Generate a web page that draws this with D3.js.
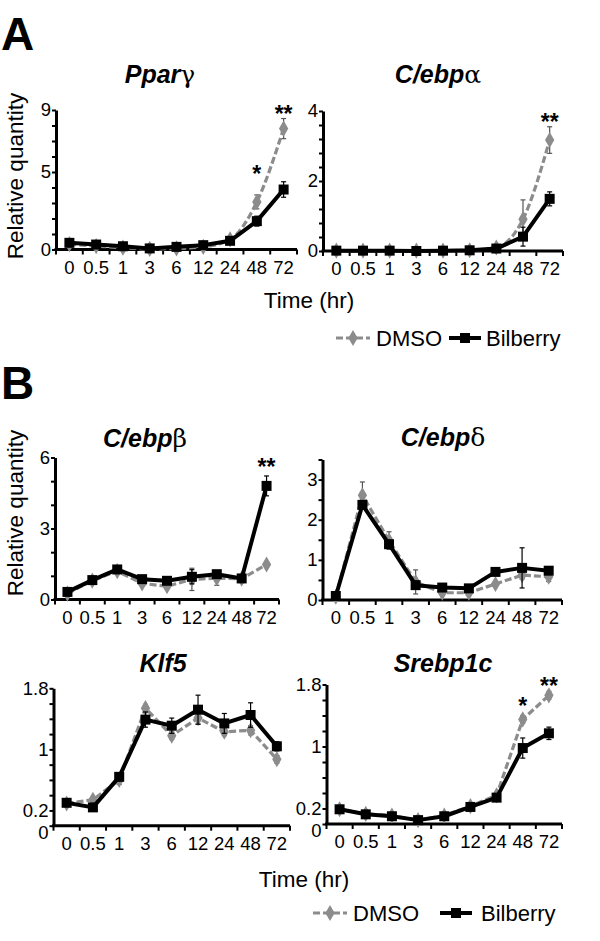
<!DOCTYPE html>
<html><head><meta charset="utf-8">
<script src="https://cdn.jsdelivr.net/npm/d3@7"></script>
<style>body{margin:0;background:#fff}svg{display:block;font-family:"Liberation Sans",Arial,sans-serif}</style>
</head><body><svg id="c" width="600" height="941"></svg>
<script>
// ---- data ----
const times = ["0","0.5","1","3","6","12","24","48","72"];
const seriesNames = ["DMSO","Bilberry"];

const pparDmso    = [0.35,0.22,0.12,0.04,0.07,0.17,0.65,3.07,7.8];
const pparDmsoErr = [0.05,0.04,0.03,0.02,0.02,0.04,0.1,0.45,0.65];
const pparBil     = [0.43,0.32,0.21,0.07,0.17,0.28,0.56,1.83,3.87];
const pparBilErr  = [0.05,0.04,0.03,0.02,0.03,0.04,0.08,0.32,0.5];

const cebpaDmso    = [0.01,0.01,0.01,0.01,0.01,0.02,0.1,0.91,3.17];
const cebpaDmsoErr = [0,0,0,0,0,0,0.02,0.55,0.38];
const cebpaBil     = [0.01,0.01,0.01,0.0,0.01,0.02,0.07,0.41,1.49];
const cebpaBilErr  = [0,0,0,0,0,0,0.02,0.27,0.2];

const cebpbDmso    = [0.25,0.8,1.2,0.68,0.56,0.85,0.9,0.88,1.48];
const cebpbDmsoErr = [0.03,0.05,0.08,0.08,0.08,0.47,0.3,0.05,0.1];
const cebpbBil     = [0.32,0.82,1.27,0.86,0.79,0.96,1.07,0.89,4.8];
const cebpbBilErr  = [0.03,0.05,0.06,0.06,0.08,0.3,0.1,0.05,0.42];

const cebpdDmso    = [0.08,2.61,1.48,0.45,0.18,0.18,0.4,0.62,0.58];
const cebpdDmsoErr = [0.02,0.33,0.22,0.3,0.05,0.04,0.05,0.1,0.12];
const cebpdBil     = [0.1,2.37,1.39,0.37,0.31,0.29,0.7,0.8,0.73];
const cebpdBilErr  = [0.02,0.1,0.1,0.1,0.05,0.05,0.06,0.5,0.08];

const klf5Dmso    = [0.29,0.34,0.6,1.54,1.18,1.41,1.23,1.25,0.87];
const klf5DmsoErr = [0.03,0.03,0.06,0.05,0.05,0.08,0.05,0.06,0.05];
const klf5Bil     = [0.30,0.24,0.64,1.39,1.31,1.52,1.34,1.45,1.04];
const klf5BilErr  = [0.03,0.03,0.05,0.1,0.1,0.19,0.13,0.16,0.06];

const srebpDmso    = [0.19,0.13,0.11,0.05,0.11,0.23,0.37,1.35,1.66];
const srebpDmsoErr = [0.01,0.01,0.01,0.01,0.01,0.02,0.02,0.05,0.05];
const srebpBil     = [0.19,0.125,0.10,0.05,0.10,0.22,0.34,0.98,1.17];
const srebpBilErr  = [0.01,0.01,0.01,0.01,0.01,0.02,0.02,0.13,0.08];

// y-axis tick labels per chart
const pparTicks  = [0,5,9];
const cebpaTicks = [0,2,4];
const cebpbTicks = [0,3,6];
const cebpdTicks = [0,1,2,3];
const klf5Ticks  = [0,0.2,1,1.8];
const srebpTicks = [0,0.2,1,1.8];

// significance marks: [chart, time, y-position in data units, label]
const stars = [
  ["ppar","48",5.19,"*"],["ppar","72",9.06,"**"],
  ["cebpa","72",3.83,"**"],
  ["cebpb","72",5.81,"**"],
  ["srebp","48",1.59,"*"],["srebp","72",1.85,"**"]
];

// ---- layout ----
const charts = [
  {id:"ppar", name:"Ppar", greek:"γ", dmso:pparDmso, dmsoErr:pparDmsoErr, bil:pparBil, bilErr:pparBilErr,
   yMax:9, yStep:1, labels:pparTicks, x0:56, x1:297, yb:249.5, yt:110, tx:160, ty:83, smooth:true, ylab:176},
  {id:"cebpa", name:"C/ebp", greek:"α", dmso:cebpaDmso, dmsoErr:cebpaDmsoErr, bil:cebpaBil, bilErr:cebpaBilErr,
   yMax:4, yStep:0.4, labels:cebpaTicks, x0:323, x1:563, yb:251, yt:111, tx:438, ty:83, smooth:true},
  {id:"cebpb", name:"C/ebp", greek:"β", dmso:cebpbDmso, dmsoErr:cebpbDmsoErr, bil:cebpbBil, bilErr:cebpbBilErr,
   yMax:6, yStep:1, labels:cebpbTicks, x0:55, x1:279, yb:599.5, yt:457.5, tx:145, ty:447, ylab:513},
  {id:"cebpd", name:"C/ebp", greek:"δ", dmso:cebpdDmso, dmsoErr:cebpdDmsoErr, bil:cebpdBil, bilErr:cebpdBilErr,
   yMax:3.5, yStep:0.5, labels:cebpdTicks, x0:322.5, x1:562, yb:600, yt:459.5, tx:443, ty:446},
  {id:"klf5", name:"Klf5", greek:"", dmso:klf5Dmso, dmsoErr:klf5DmsoErr, bil:klf5Bil, bilErr:klf5BilErr,
   yMax:1.8, yStep:0.2, labels:klf5Ticks, x0:53.5, x1:290, yb:825.7, yt:688.3, tx:163, ty:672, zeroShift:7},
  {id:"srebp", name:"Srebp1c", greek:"", dmso:srebpDmso, dmsoErr:srebpDmsoErr, bil:srebpBil, bilErr:srebpBilErr,
   yMax:1.8, yStep:0.2, labels:srebpTicks, x0:326.5, x1:562, yb:824, yt:684.5, tx:443, ty:672, zeroShift:7}
];

const GRAY = "#8c8c8c";
const TICK_FS = 18.5;
const svg = d3.select("#c");

charts.forEach(c => {
  const x = d3.scaleBand().domain(times).range([c.x0, c.x1]);
  const cx = t => x(t) + x.bandwidth()/2;
  const y = d3.scaleLinear().domain([0, c.yMax]).range([c.yb, c.yt]);
  const g = svg.append("g");

  // y axis: minor ticks
  const minor = d3.range(0, c.yMax + 1e-9, c.yStep);
  const ya = g.append("g").attr("transform", `translate(${c.x0},0)`)
    .call(d3.axisLeft(y).tickValues(minor).tickSize(4).tickSizeOuter(0).tickFormat(""));
  ya.select(".domain").attr("stroke-width", 3);
  ya.selectAll(".tick line").attr("stroke-width", 2);
  // y labels
  const yl = g.append("g").attr("transform", `translate(${c.x0},0)`)
    .call(d3.axisLeft(y).tickValues(c.labels).tickSize(0).tickPadding(5).tickFormat(d => String(d)));
  yl.select(".domain").remove();
  yl.selectAll("text").attr("font-size", TICK_FS).attr("font-family", "'Liberation Sans', Arial, sans-serif").attr("fill", "#000");
  if (c.zeroShift) yl.selectAll(".tick").filter(d => d === 0).select("text").attr("dy", (0.32*TICK_FS + c.zeroShift) + "px");

  // x axis
  const xa = g.append("g").attr("transform", `translate(0,${c.yb})`)
    .call(d3.axisBottom(x).tickSize(0).tickPadding(11));
  xa.select(".domain").attr("stroke-width", 3).attr("d", `M${c.x0 - 1.5},0H${c.x1}`);
  xa.selectAll("text").attr("font-size", TICK_FS).attr("font-family", "'Liberation Sans', Arial, sans-serif").attr("fill", "#000");
  const bounds = times.map(t => x(t)).concat([c.x1]);
  g.selectAll(".xb").data(bounds).join("line")
    .attr("x1", d => d).attr("x2", d => d).attr("y1", c.yb).attr("y2", c.yb + 5)
    .attr("stroke", "#000").attr("stroke-width", 2);

  // title
  const tt = g.append("text").attr("x", c.tx).attr("y", c.ty).attr("text-anchor", "middle")
    .attr("font-size", 25);
  tt.append("tspan").attr("font-weight", "bold").attr("font-style", "italic").text(c.name);
  if (c.greek) tt.append("tspan").attr("font-family", "'DejaVu Serif', serif").attr("font-size", 25).text(c.greek);

  // series
  const series = [
    {vals:c.dmso, err:c.dmsoErr, color:GRAY, dash:"7,3", width:3.2, shape:"diamond", errColor:"#555"},
    {vals:c.bil, err:c.bilErr, color:"#000", dash:null, width:4, shape:"square", errColor:"#000"}
  ];
  series.forEach((s, si) => {
    const pts = times.map((t, i) => ({t, v:s.vals[i], e:s.err[i]}));
    const eb = g.append("g").attr("stroke", s.errColor).attr("stroke-width", 1.2);
    pts.filter(p => p.e > 0.015).forEach(p => {
      const X = cx(p.t), y1 = y(p.v - p.e), y2 = y(p.v + p.e);
      eb.append("line").attr("x1", X).attr("x2", X).attr("y1", y1).attr("y2", y2);
      eb.append("line").attr("x1", X - 2.5).attr("x2", X + 2.5).attr("y1", y1).attr("y2", y1);
      eb.append("line").attr("x1", X - 2.5).attr("x2", X + 2.5).attr("y1", y2).attr("y2", y2);
    });
    const line = d3.line().x(p => cx(p.t)).y(p => y(p.v))
      .curve(c.smooth && si === 0 ? d3.curveMonotoneX : d3.curveLinear);
    g.append("path").datum(pts).attr("d", line).attr("fill", "none")
      .attr("stroke", s.color).attr("stroke-width", s.width)
      .attr("stroke-dasharray", s.dash).attr("stroke-linejoin", "round");
    const sym = s.shape === "square"
      ? d3.symbol().type(d3.symbolSquare).size(100)
      : d3.symbol().type(d3.symbolDiamond).size(75);
    g.selectAll(null).data(pts).join("path")
      .attr("d", sym).attr("transform", p => `translate(${cx(p.t)},${y(p.v)})`)
      .attr("fill", s.color);
  });

  // significance
  stars.filter(s => s[0] === c.id).forEach(s => {
    g.append("text").attr("x", cx(s[1])).attr("y", y(s[2]) + 13)
      .attr("text-anchor", "middle").attr("font-size", 23).attr("font-weight", "bold").text(s[3]);
  });

  // y axis title
  if (c.ylab) {
    g.append("text").attr("transform", `translate(23,${c.ylab}) rotate(-90)`)
      .attr("text-anchor", "middle").attr("font-size", 22.5).text("Relative quantity");
  }
});

// panel letters
svg.append("text").attr("x", 1).attr("y", 50).attr("font-size", 46).attr("font-weight", "bold").text("A");
svg.append("text").attr("x", 1).attr("y", 399).attr("font-size", 46).attr("font-weight", "bold").text("B");

// time labels
svg.append("text").attr("x", 309).attr("y", 308).attr("text-anchor", "middle").attr("font-size", 22.5).text("Time (hr)");
svg.append("text").attr("x", 304).attr("y", 887).attr("text-anchor", "middle").attr("font-size", 22.5).text("Time (hr)");

// legends
function legend(yc, gx0, gx1, tx0, bx0, bx1, tx1) {
  const lg = svg.append("g");
  lg.append("line").attr("x1", gx0).attr("x2", gx1).attr("y1", yc).attr("y2", yc)
    .attr("stroke", GRAY).attr("stroke-width", 3.2).attr("stroke-dasharray", "7,3");
  lg.append("path").attr("d", d3.symbol().type(d3.symbolDiamond).size(75)).attr("transform", `translate(${(gx0+gx1)/2},${yc})`).attr("fill", GRAY);
  lg.append("text").attr("x", tx0).attr("y", yc + 8).attr("font-size", 22).text(seriesNames[0]);
  lg.append("line").attr("x1", bx0).attr("x2", bx1).attr("y1", yc).attr("y2", yc)
    .attr("stroke", "#000").attr("stroke-width", 4);
  lg.append("path").attr("d", d3.symbol().type(d3.symbolSquare).size(100)).attr("transform", `translate(${(bx0+bx1)/2},${yc})`).attr("fill", "#000");
  lg.append("text").attr("x", tx1).attr("y", yc + 8).attr("font-size", 22).text(seriesNames[1]);
}
legend(338, 336, 370, 376, 449, 481, 486);
legend(913, 313, 347, 353, 440, 472, 481);
</script></body></html>
